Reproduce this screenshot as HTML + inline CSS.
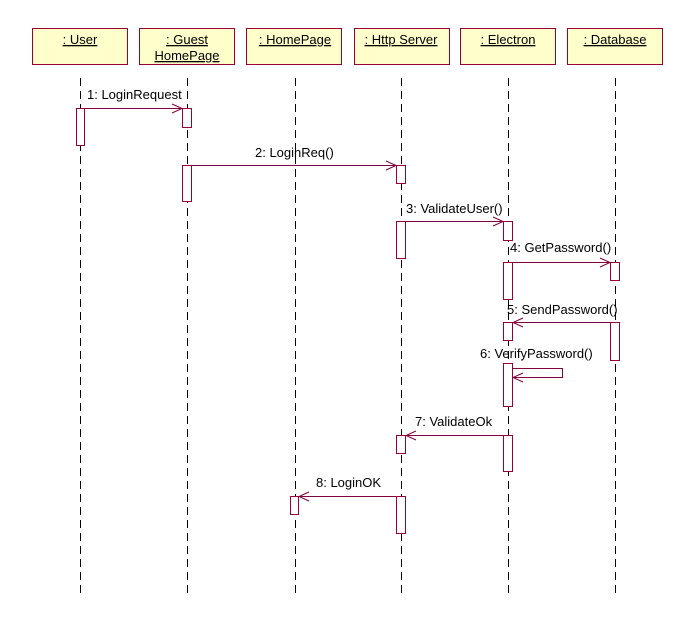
<!DOCTYPE html>
<html><head><meta charset="utf-8"><style>
html,body{margin:0;padding:0;background:#fff;width:696px;height:624px;overflow:hidden}
svg text{font-family:"Liberation Sans",sans-serif;font-size:13px;fill:#000}
</style></head><body>
<svg width="696" height="624" viewBox="0 0 696 624" xmlns="http://www.w3.org/2000/svg">
<g fill="#ffffcc" stroke="#990033" stroke-width="1">
<rect x="32.5" y="28.5" width="95" height="36"/>
<rect x="139.5" y="28.5" width="95" height="36"/>
<rect x="246.5" y="28.5" width="95" height="36"/>
<rect x="354.5" y="28.5" width="95" height="36"/>
<rect x="460.5" y="28.5" width="95" height="36"/>
<rect x="567.5" y="28.5" width="95" height="36"/>
</g>
<g text-anchor="middle" text-decoration="underline">
<text x="80" y="44">: User</text>
<text x="187" y="44">: Guest </text>
<text x="187" y="60">HomePage</text>
<text x="295" y="44">: HomePage</text>
<text x="401" y="44">: Http Server</text>
<text x="508" y="44">: Electron</text>
<text x="615" y="44">: Database</text>
</g>
<g stroke="#000" stroke-width="1" stroke-dasharray="8,5">
<line x1="80.5" y1="78" x2="80.5" y2="598"/>
<line x1="187.5" y1="78" x2="187.5" y2="598"/>
<line x1="295.5" y1="78" x2="295.5" y2="598"/>
<line x1="401.5" y1="78" x2="401.5" y2="598"/>
<line x1="508.5" y1="78" x2="508.5" y2="598"/>
<line x1="615.5" y1="78" x2="615.5" y2="598"/>
</g>
<g fill="#fff" stroke="#990033">
<rect x="76.5" y="108.5" width="8" height="37"/>
<rect x="182.5" y="108.5" width="9" height="19"/>
<rect x="182.5" y="165.5" width="9" height="36"/>
<rect x="396.5" y="165.5" width="9" height="18"/>
<rect x="396.5" y="221.5" width="9" height="37"/>
<rect x="396.5" y="435.5" width="9" height="18"/>
<rect x="396.5" y="496.5" width="9" height="37"/>
<rect x="503.5" y="221.5" width="9" height="19"/>
<rect x="503.5" y="262.5" width="9" height="37"/>
<rect x="503.5" y="322.5" width="9" height="18"/>
<rect x="503.5" y="363.5" width="9" height="43"/>
<rect x="503.5" y="435.5" width="9" height="36"/>
<rect x="610.5" y="262.5" width="9" height="18"/>
<rect x="610.5" y="322.5" width="9" height="38"/>
<rect x="290.5" y="496.5" width="8" height="18"/>
</g>
<g stroke="#800040" fill="none" stroke-width="1">
<path d="M85 108.5H182M172 104l10 4.5-10 4.5"/>
<path d="M191 165.5H396M386 161l10 4.5-10 4.5"/>
<path d="M405 221.5H503M493 217l10 4.5-10 4.5"/>
<path d="M512 262.5H610M600 258l10 4.5-10 4.5"/>
<path d="M610 322.5H513M523 318l-10 4.5 10 4.5"/>
<path d="M512 368.5H562.5V377.5H513M523 373l-10 4.5 10 4.5"/>
<path d="M503 435.5H406M416 431l-10 4.5 10 4.5"/>
<path d="M396 496.5H299M309 492l-10 4.5 10 4.5"/>
</g>
<text x="87" y="99">1: LoginRequest</text>
<text x="255" y="157">2: LoginReq()</text>
<text x="406" y="213">3: ValidateUser()</text>
<text x="510" y="252">4: GetPassword()</text>
<text x="507" y="314">5: SendPassword()</text>
<text x="480" y="358">6: VerifyPassword()</text>
<text x="415" y="426">7: ValidateOk</text>
<text x="316" y="487">8: LoginOK</text>
</svg>
</body></html>
